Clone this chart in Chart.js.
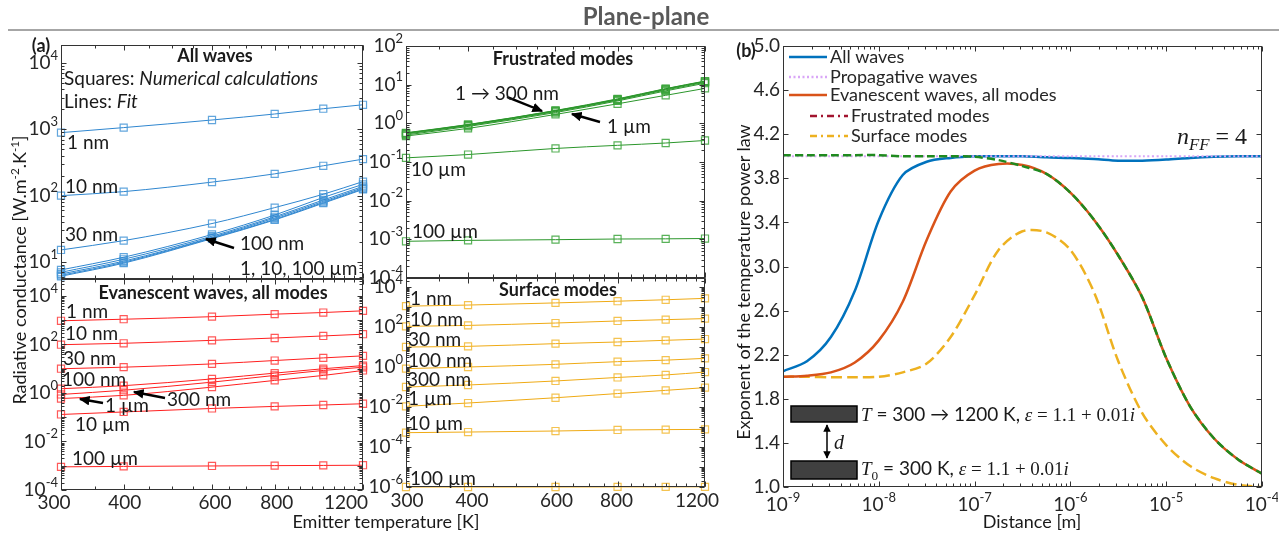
<!DOCTYPE html>
<html>
<head>
<meta charset="utf-8">
<script src="https://cdn.jsdelivr.net/npm/chart.js@4.4.1/dist/chart.umd.min.js"></script>
<style>
  body { margin: 0; background: #fff; }
  #wrap { position: relative; width: 1287px; height: 535px; overflow: hidden; font-family: Lato, "Open Sans", sans-serif; color: #1a1a1a; }
  #wrap canvas { position: absolute; }
  .t { position: absolute; white-space: nowrap; line-height: 1; }
  .m { font-family: "Liberation Serif", "DejaVu Serif", serif; }
</style>
</head>
<body>
<div id="wrap"></div>
<script>
// ---- panel (a): radiative conductance vs emitter temperature ----
const temps = [300, 400, 600, 800, 1000, 1200];
const gapLabels = ['1 nm', '10 nm', '30 nm', '100 nm', '300 nm', '1 µm', '10 µm', '100 µm'];

const allWaves = [
  [890, 1060, 1380, 1700, 2040, 2340],
  [100, 115, 160, 213, 282, 355],
  [15.2, 21, 38, 66, 105, 163],
  [7.6, 11.8, 26, 51, 94, 148],
  [7.0, 11, 24.5, 48, 86, 138],
  [6.6, 10.3, 23.5, 46, 82, 132],
  [6.3, 9.9, 23, 44, 79, 127],
  [6.1, 9.6, 22.5, 43, 77, 124],
];
const frustrated = [
  [0.57, 0.93, 2.15, 4.3, 7.9, 12.4],
  [0.56, 0.92, 2.12, 4.2, 7.8, 12.2],
  [0.55, 0.9, 2.08, 4.1, 7.6, 12.0],
  [0.53, 0.87, 2.0, 4.0, 7.3, 11.5],
  [0.5, 0.83, 1.9, 3.8, 6.9, 10.9],
  [0.47, 0.74, 1.7, 3.2, 5.3, 8.0],
  [0.128, 0.156, 0.224, 0.27, 0.31, 0.36],
  [0.00089, 0.00094, 0.00098, 0.00102, 0.00103, 0.00105],
];
const evanescent = [
  [950, 1100, 1400, 1780, 2080, 2440],
  [98, 112, 148, 185, 225, 265],
  [10, 11.6, 15.8, 21.8, 28, 34],
  [1.5, 2.0, 3.8, 6.6, 10, 13.5],
  [0.87, 1.3, 2.8, 5.3, 8.5, 11.5],
  [0.59, 0.8, 1.75, 3.3, 5.3, 8.5],
  [0.13, 0.165, 0.23, 0.28, 0.32, 0.36],
  [0.0009, 0.00094, 0.00098, 0.00101, 0.00103, 0.00105],
];
const surface = [
  [1100, 1250, 1600, 1950, 2300, 2700],
  [108, 120, 158, 200, 233, 263],
  [10, 10.8, 14.7, 17.8, 21.6, 25],
  [0.83, 1.0, 1.36, 1.85, 2.2, 2.7],
  [0.1, 0.126, 0.2, 0.3, 0.4, 0.56],
  [0.0108, 0.0158, 0.029, 0.047, 0.068, 0.093],
  [0.00052, 0.00056, 0.00063, 0.00071, 0.00074, 0.00076],
  [1.0e-6, 1.0e-6, 1.0e-6, 1.01e-6, 1.01e-6, 1.02e-6],
];
const tempTicks = [300, 400, 600, 800, 1200];

// ---- panel (b): exponent of the temperature power law vs distance ----
const distExp = [-9, -8.75, -8.5, -8.25, -8, -7.75, -7.5, -7.25, -7, -6.75, -6.5,
                 -6.25, -6, -5.75, -5.5, -5.25, -5, -4.75, -4.5, -4.25, -4];
const nAll  = [2.05, 2.14, 2.36, 2.78, 3.42, 3.83, 3.95, 3.985, 4.0, 4.0, 4.0,
               3.99, 3.985, 3.975, 3.96, 3.96, 3.97, 3.985, 3.995, 4.0, 4.0];
const nProp = [4.0, 4.0, 4.0, 4.0, 4.0, 4.0, 4.0, 4.0, 4.0, 4.0, 4.0,
               4.0, 4.0, 4.0, 4.0, 4.0, 4.0, 4.0, 4.0, 4.0, 4.0];
const nEva  = [2.0, 2.01, 2.04, 2.13, 2.33, 2.68, 3.24, 3.68, 3.87, 3.93, 3.92,
               3.84, 3.67, 3.42, 3.1, 2.72, 2.17, 1.73, 1.44, 1.25, 1.12];
const nFrus = [4.01, 4.01, 4.01, 4.01, 4.01, 4.0, 4.0, 4.0, 3.995, 3.965, 3.91,
               3.84, 3.67, 3.42, 3.1, 2.72, 2.17, 1.73, 1.44, 1.25, 1.12];
const nSurf = [2.0, 2.0, 1.995, 1.995, 2.0, 2.04, 2.12, 2.36, 2.74, 3.15, 3.32,
               3.31, 3.15, 2.76, 2.14, 1.67, 1.38, 1.19, 1.08, 1.02, 1.0];

const AX = '#333';
const TXT = '#262626';
const FS = 19;
const PAD = { l: 64, t: 16, r: 16, b: 40 };
const wrap = document.getElementById('wrap');

function range(a, b, s) { const r = []; for (let v = a; v <= b + 1e-9; v += s) r.push(+v.toFixed(6)); return r; }
function logMinors(k0, k1) {
  const r = [];
  for (let k = k0; k <= k1; k++) for (let m = 2; m <= 9; m++) r.push(m * Math.pow(10, k));
  return r;
}
function decades(k0, k1) { return range(k0, k1, 1).map(k => Math.pow(10, k)); }

function drawPow(ctx, v, x, y, align) {
  const k = String(Math.round(Math.log10(v)));
  const small = Math.round(FS * 0.68);
  ctx.font = FS + 'px Lato';
  const wb = ctx.measureText('10').width;
  ctx.font = small + 'px Lato';
  const ws = ctx.measureText(k).width;
  const x0 = align === 'right' ? x - wb - ws : x - (wb + ws) / 2;
  ctx.textAlign = 'left';
  ctx.textBaseline = 'middle';
  ctx.font = FS + 'px Lato';
  ctx.fillText('10', x0, y);
  ctx.font = small + 'px Lato';
  ctx.fillText(k, x0 + wb, y - FS * 0.4);
}

// axes box, inward ticks, tick labels and legend (MATLAB look)
const framePlugin = {
  id: 'frame',
  afterDatasetsDraw(chart, args, o) {
    const { ctx, chartArea: a } = chart;
    const xs = chart.scales.x, ys = chart.scales.y;
    const L = Math.round(a.left) + 0.5, R = Math.round(a.right) - 0.5;
    const T = Math.round(a.top) + 0.5, B = Math.round(a.bottom) - 0.5;
    ctx.save();
    ctx.strokeStyle = AX;
    ctx.lineWidth = 1;
    ctx.beginPath();
    const xt = (v, len) => {
      const p = Math.round(xs.getPixelForValue(v)) + 0.5;
      ctx.moveTo(p, B); ctx.lineTo(p, B - len);
      ctx.moveTo(p, T); ctx.lineTo(p, T + len);
    };
    const yt = (v, len) => {
      const p = Math.round(ys.getPixelForValue(v)) + 0.5;
      ctx.moveTo(L, p); ctx.lineTo(L + len, p);
      ctx.moveTo(R, p); ctx.lineTo(R - len, p);
    };
    const inX = v => v >= xs.min && v <= xs.max;
    const inY = v => v >= ys.min && v <= ys.max;
    (o.xMajor || []).filter(inX).forEach(v => xt(v, 5));
    (o.xMinor || []).filter(inX).forEach(v => xt(v, 3));
    (o.yMajor || []).filter(inY).forEach(v => yt(v, 5));
    (o.yMinor || []).filter(inY).forEach(v => yt(v, 3));
    ctx.stroke();
    ctx.strokeRect(L, T, R - L, B - T);

    ctx.fillStyle = TXT;
    (o.xLab || []).forEach((v, i) => {
      const px = xs.getPixelForValue(v) + (o.xShift ? o.xShift[i] : 0);
      if (o.xFmt === 'pow') drawPow(ctx, v, px, a.bottom + o.xOff, 'center');
      else {
        ctx.font = FS + 'px Lato';
        ctx.textAlign = 'center'; ctx.textBaseline = 'middle';
        ctx.fillText(String(v), px, a.bottom + o.xOff);
      }
    });
    (o.yLab || []).forEach(v => {
      const py = ys.getPixelForValue(v);
      if (o.yFmt === 'pow') drawPow(ctx, v, a.left - 3, py, 'right');
      else {
        ctx.font = FS + 'px Lato';
        ctx.textAlign = 'right'; ctx.textBaseline = 'middle';
        ctx.fillText(v.toFixed(1), a.left - 3, py);
      }
    });

    if (o.legend) {
      ctx.font = '18px Lato';
      ctx.textAlign = 'left'; ctx.textBaseline = 'middle';
      chart.data.datasets.forEach(ds => {
        if (ds.legendY === undefined) return;
        const x0 = a.left + (ds.indent ? 27 : 6);
        const y = a.top + ds.legendY;
        ctx.strokeStyle = ds.legendColor || ds.borderColor;
        ctx.lineWidth = 2.5;
        ctx.setLineDash(ds.legendDash || ds.borderDash || []);
        ctx.beginPath(); ctx.moveTo(x0, y); ctx.lineTo(x0 + 38, y); ctx.stroke();
        ctx.setLineDash([]);
        ctx.fillStyle = TXT;
        ctx.fillText(ds.label, x0 + 41, y);
      });
    }
    ctx.restore();
  }
};

function makeChart(p, datasets, xs, ys, frame) {
  const cv = document.createElement('canvas');
  const W = p.w + PAD.l + PAD.r, H = p.h + PAD.t + PAD.b;
  cv.width = W; cv.height = H;
  cv.style.left = (p.x - PAD.l) + 'px';
  cv.style.top = (p.y - PAD.t) + 'px';
  cv.style.width = W + 'px'; cv.style.height = H + 'px';
  wrap.appendChild(cv);
  return new Chart(cv, {
    type: 'line',
    data: { datasets },
    options: {
      responsive: false,
      animation: false,
      devicePixelRatio: 1,
      layout: { padding: { left: PAD.l, top: PAD.t, right: PAD.r, bottom: PAD.b } },
      scales: {
        x: Object.assign({ display: false }, xs),
        y: Object.assign({ display: false }, ys),
      },
      plugins: { legend: { display: false }, tooltip: { enabled: false }, frame },
    },
    plugins: [framePlugin],
  });
}

function tempSets(rows, line, mark) {
  return rows.map((vals, i) => ({
    label: gapLabels[i],
    data: temps.map((t, j) => ({ x: t, y: vals[j] })),
    borderColor: line,
    borderWidth: 1,
    cubicInterpolationMode: 'monotone',
    pointStyle: 'rect',
    pointRadius: 5,
    pointBorderWidth: 1.2,
    pointBorderColor: mark,
    pointBackgroundColor: 'rgba(0,0,0,0)',
    clip: false,
  }));
}

const tempX = { type: 'logarithmic', min: 300, max: 1200 };
const tempFrame = { xMajor: tempTicks, xMinor: range(300, 1200, 50) };

// top-left: all waves
makeChart({ x: 61, y: 45, w: 302, h: 234 },
  tempSets(allWaves, '#2f86cf', 'rgba(70,150,215,0.85)'),
  tempX, { type: 'logarithmic', min: Math.pow(10, 0.744), max: Math.pow(10, 4.27) },
  Object.assign({ yMajor: decades(0, 5), yMinor: logMinors(0, 4), yLab: decades(1, 4), yFmt: 'pow' }, tempFrame));

// bottom-left: evanescent waves
makeChart({ x: 61, y: 279, w: 302, h: 211 },
  tempSets(evanescent, '#ff1f1f', 'rgba(255,60,60,0.85)'),
  tempX, { type: 'logarithmic', min: 1e-4, max: Math.pow(10, 4.7) },
  Object.assign({ yMajor: decades(-4, 5), yMinor: logMinors(-4, 4), yLab: [1e-4, 1e-2, 1, 1e2, 1e4], yFmt: 'pow',
                  xLab: tempTicks, xShift: [-7, 1, 3, 2, -17], xOff: 13 }, tempFrame));

// top-right: frustrated modes
makeChart({ x: 406, y: 46, w: 299, h: 232 },
  tempSets(frustrated, '#2b962b', 'rgba(60,165,60,0.85)'),
  tempX, { type: 'logarithmic', min: 1e-4, max: 100 },
  Object.assign({ yMajor: decades(-4, 2), yMinor: logMinors(-4, 1), yLab: decades(-4, 2), yFmt: 'pow' }, tempFrame));

// bottom-right: surface modes
makeChart({ x: 406, y: 278, w: 299, h: 209 },
  tempSets(surface, '#efaa14', 'rgba(242,185,50,0.85)'),
  tempX, { type: 'logarithmic', min: 1e-6, max: Math.pow(10, 4.45) },
  Object.assign({ yMajor: decades(-6, 4), yMinor: logMinors(-6, 4), yLab: [1e-6, 1e-4, 1e-2, 1, 1e2, 1e4], yFmt: 'pow',
                  xLab: tempTicks, xShift: [1, 4, 1, -1, -8], xOff: 14 }, tempFrame));

// panel (b)
const distSet = (label, vals, extra) => Object.assign({
  label,
  data: distExp.map((e, i) => ({ x: Math.pow(10, e), y: vals[i] })),
  borderWidth: 2.5,
  pointRadius: 0,
  tension: 0.3,
}, extra);

makeChart({ x: 783, y: 46, w: 479, h: 441 },
  [
    distSet('Frustrated modes', nFrus, { borderColor: '#1f8a1f', borderDash: [8, 4], order: 0, legendY: 70, indent: true,
                                         legendColor: '#a2142f', legendDash: [7, 4, 2, 4] }),
    distSet('Propagative waves', nProp, { borderColor: '#d9a6f7', borderWidth: 2.2, borderDash: [2, 2.5], order: 1, legendY: 31 }),
    distSet('All waves', nAll, { borderColor: '#0072bd', order: 2, legendY: 11 }),
    distSet('Evanescent waves, all modes', nEva, { borderColor: '#d95319', order: 3, legendY: 49 }),
    distSet('Surface modes', nSurf, { borderColor: '#edb120', borderDash: [11, 5], order: 4, legendY: 90, indent: true,
                                      legendDash: [7, 4, 2, 4] }),
  ],
  { type: 'logarithmic', min: 1e-9, max: 1e-4 },
  { type: 'linear', min: 1, max: 5 },
  { xMajor: decades(-9, -4), xMinor: logMinors(-9, -5), xLab: decades(-9, -4), xFmt: 'pow', xOff: 18,
    yMajor: range(1, 5, 0.4), yLab: range(1, 5, 0.4), yFmt: 'fix1', legend: true });

// decorations: title rule, arrows, inset sketch
const svg = `
<svg width="1287" height="535" style="position:absolute;left:0;top:0;pointer-events:none">
  <defs>
    <marker id="ah" markerWidth="4.5" markerHeight="4" refX="4" refY="2" orient="auto-start-reverse" markerUnits="strokeWidth">
      <path d="M0,0 L4.5,2 L0,4 z" fill="#000"/>
    </marker>
    <marker id="ah2" markerWidth="5" markerHeight="5" refX="4.5" refY="2.5" orient="auto-start-reverse" markerUnits="strokeWidth">
      <path d="M0,0 L5,2.5 L0,5 z" fill="#000"/>
    </marker>
  </defs>
  <line x1="8" y1="30" x2="1279" y2="30" stroke="#a6a6a6" stroke-width="2"/>
  <g stroke="#000" stroke-width="2.4" marker-end="url(#ah)">
    <line x1="234" y1="248" x2="206" y2="239"/>
    <line x1="507" y1="97" x2="542" y2="111"/>
    <line x1="600" y1="122" x2="572" y2="114"/>
    <line x1="103" y1="403" x2="80" y2="399"/>
    <line x1="165" y1="398" x2="134" y2="392"/>
  </g>
  <rect x="791" y="406" width="66" height="16" fill="#404040" stroke="#000" stroke-width="1.5"/>
  <rect x="791" y="461" width="66" height="18" fill="#404040" stroke="#000" stroke-width="1.5"/>
  <line x1="827" y1="425" x2="827" y2="458" stroke="#000" stroke-width="1.5" marker-start="url(#ah2)" marker-end="url(#ah2)"/>
</svg>`;
wrap.insertAdjacentHTML('beforeend', svg);

// text annotations: [x, y(centre), html, size, centred]
const notes = [
  [646, 16, '<b style="color:#595959">Plane-plane</b>', 24, 1],
  [41, 45, '<b>(a)</b>', 18, 1],
  [746, 50, '<b>(b)</b>', 18, 1],
  [215, 55, '<b>All waves</b>', 18, 1],
  [64, 77, 'Squares: <i>Numerical calculations</i>', 19],
  [64, 100, 'Lines: <i>Fit</i>', 19],
  [67, 141, '1 nm'], [65, 185, '10 nm'], [65, 233, '30 nm'],
  [240, 242, '100 nm'], [240, 267, '1, 10, 100 µm'],
  [563, 58, '<b>Frustrated modes</b>', 18, 1],
  [455, 92, '1 → 300 nm'], [607, 125, '1 µm'], [411, 168, '10 µm'], [412, 230, '100 µm'],
  [213, 292, '<b>Evanescent waves, all modes</b>', 18, 1],
  [66, 310, '1 nm'], [65, 332, '10 nm'], [63, 357, '30 nm'], [62, 378, '100 nm'],
  [105, 404, '1 µm'], [167, 398, '300 nm'], [75, 423, '10 µm'], [72, 457, '100 µm'],
  [558, 289, '<b>Surface modes</b>', 18, 1],
  [410, 297, '1 nm'], [410, 318, '10 nm'], [408, 338, '30 nm'], [408, 359, '100 nm'],
  [407, 378, '300 nm'], [408, 397, '1 µm'], [408, 422, '10 µm'], [410, 477, '100 µm'],
  [386, 521, 'Emitter temperature [K]', 18, 1],
  [1032, 521, 'Distance [m]', 18, 1],
  [1177, 138, '<span class="m"><i>n</i><sub style="font-size:0.7em"><i>FF</i></sub> = 4</span>', 24],
  [834, 441, '<span class="m"><i>d</i></span>', 20],
  [861, 414, '<span class="m"><i>T</i></span> = 300 → 1200 K, <span class="m"><i>ε</i> = 1.1 + 0.01<i>i</i></span>', 19],
  [861, 470, '<span class="m"><i>T</i><sub style="font-size:0.7em">0</sub></span> = 300 K, <span class="m"><i>ε</i> = 1.1 + 0.01<i>i</i></span>', 19],
];
notes.forEach(([x, y, html, size = 19, centred]) => {
  const d = document.createElement('div');
  d.className = 't';
  d.style.left = x + 'px';
  d.style.top = y + 'px';
  d.style.fontSize = size + 'px';
  d.style.transform = centred ? 'translate(-50%,-50%)' : 'translateY(-50%)';
  d.innerHTML = html;
  wrap.appendChild(d);
});

// rotated axis titles
[[18, 270, 'Radiative conductance [W.m<sup style="font-size:0.65em">-2</sup>.K<sup style="font-size:0.65em">-1</sup>]', 18],
 [743, 282, 'Exponent of the temperature power law', 18]].forEach(([x, y, html, size]) => {
  const d = document.createElement('div');
  d.className = 't';
  d.style.left = x + 'px';
  d.style.top = y + 'px';
  d.style.fontSize = size + 'px';
  d.style.transform = 'translate(-50%,-50%) rotate(-90deg)';
  d.innerHTML = html;
  wrap.appendChild(d);
});
</script>
</body>
</html>
